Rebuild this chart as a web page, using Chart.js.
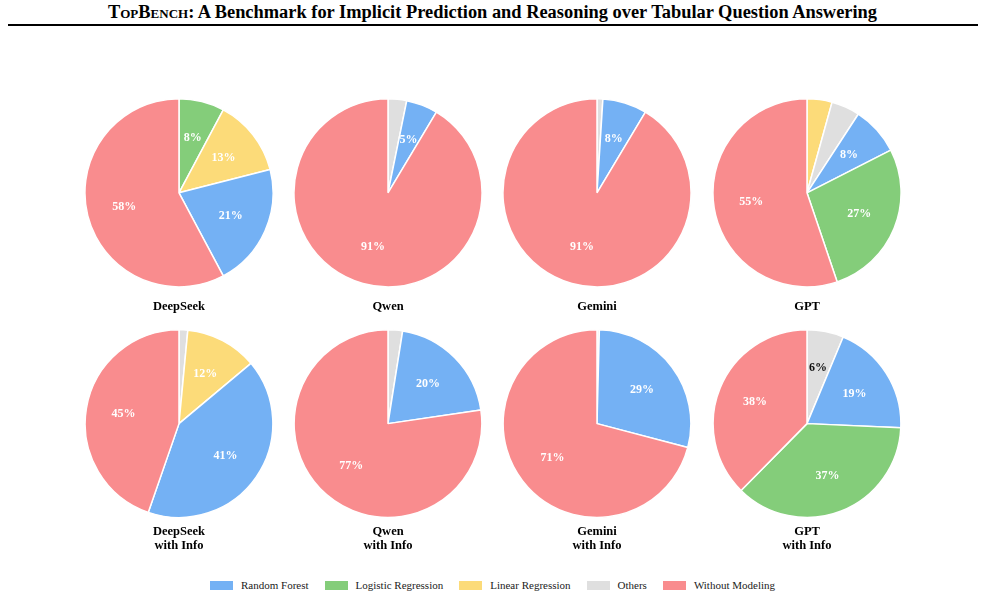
<!DOCTYPE html>
<html>
<head>
<meta charset="utf-8">
<script src="https://cdn.jsdelivr.net/npm/chart.js@4.4.1/dist/chart.umd.min.js"></script>
<style>
  body { margin: 0; background: #fff; width: 985px; height: 599px; position: relative; overflow: hidden; font-family: "Liberation Serif", "Times New Roman", serif; }
  #title { position: absolute; left: 0; width: 985px; top: 2px; text-align: center; font-size: 18.4px; font-weight: bold; color: #000; }
  #title .sc { font-variant: small-caps; }
  #rule { position: absolute; left: 8px; width: 970px; top: 24px; height: 2px; background: #000; }
  .box { position: absolute; width: 190px; }
  #legend { position: absolute; top: 579px; left: 0; width: 985px; display: flex; justify-content: center; font-size: 11px; color: #222; }
  #legend span.item { display: flex; align-items: center; margin: 0 8px; }
  #legend span.sw { display: inline-block; width: 23px; height: 9px; margin-right: 8px; }
</style>
</head>
<body>
<div id="title"><span class="sc">TopBench</span>: A Benchmark for Implicit Prediction and Reasoning over Tabular Question Answering</div>
<div id="rule"></div>
<div id="charts"></div>
<div id="legend"></div>
<script>
'use strict';

// categories and colours
const categories = ['Random Forest', 'Logistic Regression', 'Linear Regression', 'Others', 'Without Modeling'];
const colors = ['#74B1F4', '#84CD7A', '#FCDB79', '#DFDFDF', '#F98C8E'];

// share of each category (%), same order as categories
const deepseek = [21.2, 7.8, 13.2, 0, 57.8];
const qwen = [5.4, 0, 0, 3.2, 91.4];
const gemini = [7.6, 0, 0, 1.0, 91.4];
const gpt = [8.3, 27.3, 4.3, 4.9, 55.2];
const deepseekInfo = [41.4, 0, 12.4, 1.5, 44.7];
const qwenInfo = [20.2, 0, 0, 2.5, 77.3];
const geminiInfo = [28.7, 0, 0, 0.4, 70.9];
const gptInfo = [19.4, 36.7, 0, 6.3, 37.6];

const models = [
  { title: ['DeepSeek'], values: deepseek },
  { title: ['Qwen'], values: qwen },
  { title: ['Gemini'], values: gemini },
  { title: ['GPT'], values: gpt },
  { title: ['DeepSeek', 'with Info'], values: deepseekInfo },
  { title: ['Qwen', 'with Info'], values: qwenInfo },
  { title: ['Gemini', 'with Info'], values: geminiInfo },
  { title: ['GPT', 'with Info'], values: gptInfo }
];

let centersX = [179, 388, 597, 807];

// percentage labels inside slices
const pctLabels = {
  id: 'pctLabels',
  afterDatasetsDraw(chart) {
    const ctx = chart.ctx;
    const meta = chart.getDatasetMeta(0);
    const data = chart.data.datasets[0].data;
    const cats = chart.data.labels;
    ctx.save();
    ctx.font = 'bold 12px "Liberation Serif", serif';
    ctx.textAlign = 'center';
    ctx.textBaseline = 'middle';
    meta.data.forEach(function(arc, i) {
      if (data[i] < 5) return;
      const p = arc.getProps(['x', 'y', 'startAngle', 'endAngle', 'outerRadius'], true);
      const mid = (p.startAngle + p.endAngle) / 2;
      const r = p.outerRadius * 0.6;
      ctx.fillStyle = cats[i] === 'Others' ? '#111' : '#fff';
      ctx.fillText(Math.round(data[i]) + '%', p.x + Math.cos(mid) * r, p.y + Math.sin(mid) * r);
    });
    ctx.restore();
  }
};

function makePie(model, index) {
  let row = Math.floor(index / 4);
  let col = index % 4;
  let box = document.createElement('div');
  box.className = 'box';
  box.style.left = (centersX[col] - 95) + 'px';
  box.style.top = (row === 0 ? 98 : 329) + 'px';
  box.style.height = (row === 0 ? 216 : 224) + 'px';
  let canvas = document.createElement('canvas');
  box.appendChild(canvas);
  document.getElementById('charts').appendChild(box);

  // sort slices ascending, clockwise from top
  let items = [];
  for (let i = 0; i < categories.length; i++) {
    if (model.values[i] > 0) items.push({ label: categories[i], value: model.values[i], color: colors[i] });
  }
  items.sort(function(a, b) { return a.value - b.value; });

  new Chart(canvas, {
    type: 'pie',
    data: {
      labels: items.map(function(d) { return d.label; }),
      datasets: [{
        data: items.map(function(d) { return d.value; }),
        backgroundColor: items.map(function(d) { return d.color; }),
        borderColor: '#fff',
        borderWidth: 1.5
      }]
    },
    options: {
      responsive: true,
      maintainAspectRatio: false,
      animation: false,
      layout: { padding: 0 },
      plugins: {
        legend: { display: false },
        tooltip: { enabled: false },
        title: {
          display: true,
          position: 'bottom',
          text: model.title,
          color: '#000',
          font: { family: '"Liberation Serif", serif', size: 12.5, weight: 'bold', lineHeight: 1.15 },
          padding: { top: row === 0 ? 12 : 6, bottom: 0 }
        }
      }
    },
    plugins: [pctLabels]
  });
}

models.forEach(makePie);

// shared legend
let legend = document.getElementById('legend');
for (let i = 0; i < categories.length; i++) {
  let item = document.createElement('span');
  item.className = 'item';
  item.innerHTML = '<span class="sw" style="background:' + colors[i] + '"></span>' + categories[i];
  legend.appendChild(item);
}
</script>
</body>
</html>
